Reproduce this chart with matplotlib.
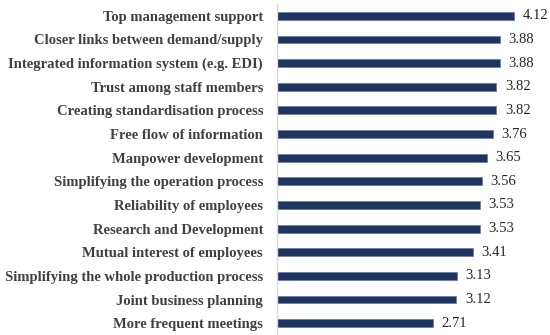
import matplotlib
matplotlib.use('Agg')
import matplotlib.pyplot as plt

factors = [
    'Top management support',
    'Closer links between demand/supply',
    'Integrated information system (e.g. EDI)',
    'Trust among staff members',
    'Creating standardisation process',
    'Free flow of information',
    'Manpower development',
    'Simplifying the operation process',
    'Reliability of employees',
    'Research and Development',
    'Mutual interest of employees',
    'Simplifying the whole production process',
    'Joint business planning',
    'More frequent meetings',
]
scores = [4.12, 3.88, 3.88, 3.82, 3.82, 3.76, 3.65, 3.56, 3.53, 3.53, 3.41, 3.13, 3.12, 2.71]

plt.rcParams['font.family'] = ['Liberation Serif', 'DejaVu Serif']

fig = plt.figure(figsize=(5.5, 3.35), dpi=100)
ax = fig.add_axes([277 / 550, 0.0, 270 / 550, 331 / 335])

pos = list(range(len(factors)))
ax.barh(pos, scores, height=0.33, color='#1f3560', edgecolor='#6a7ea6', linewidth=0.6)
for p, s in zip(pos, scores):
    ax.text(s + 0.15, p, f'{s:.2f}', va='center', ha='left', fontsize=10.5, color='#262626')

ax.set_yticks(pos)
ax.set_yticklabels(factors, fontsize=10.5, color='#404040', fontweight='bold')
ax.tick_params(axis='y', length=0, pad=10)
ax.set_ylim(len(factors) - 0.5, -0.5)
ax.set_xlim(0, 4.7)
ax.set_xticks([])
for side in ['top', 'right', 'bottom']:
    ax.spines[side].set_visible(False)
ax.spines['left'].set_color('#d9d9d9')
ax.spines['left'].set_linewidth(1)

fig.savefig('out.png', dpi=100)
